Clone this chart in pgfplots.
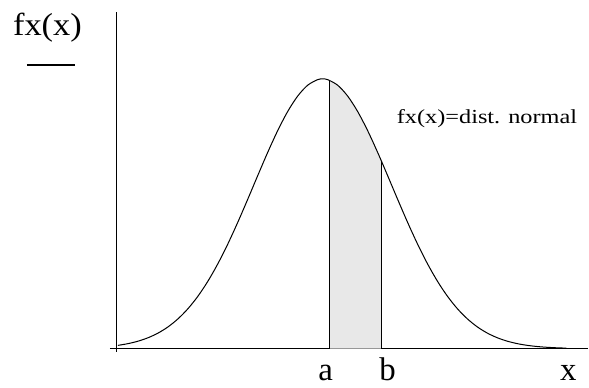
\documentclass[border=0pt]{standalone}
\usepackage{pgfplots}
\pgfplotsset{compat=1.18}
\usepackage{fontspec}
\setmainfont{Liberation Serif}
\definecolor{shade}{RGB}{232,232,232}
\begin{document}
\begin{tikzpicture}
\begin{axis}[
  scale only axis, width=479bp, height=340bp,
  xmin=-7, xmax=472, ymin=-3, ymax=337,
  axis lines=middle, axis line style={-, line width=1.2bp},
  xtick=\empty, ytick=\empty,
  clip=false,
]
\path (axis cs:-117,-39) rectangle (axis cs:472,349);
% shaded area between a and b
\addplot[fill=shade, draw=none] coordinates {
 (213,0) (213,268.61) (216,267.18) (221,263.70) (231,252.85) (241,237.42)
 (251,218.27) (261,196.52) (265,187.32) (265,0)} \closedcycle;
% normal curve
\addplot[black, line width=1bp, smooth] coordinates {
 (1,3.27) (11,4.98) (21,7.42) (31,10.83) (41,15.47) (51,21.65) (61,29.68)
 (71,39.82) (81,52.32) (91,67.32) (101,84.83) (111,104.65) (121,126.43)
 (131,149.56) (141,173.24) (151,196.52) (161,218.27) (171,237.42)
 (181,252.85) (191,263.70) (201,269.29) (206,270) (211,269.29)
 (221,263.70) (231,252.85) (241,237.42) (251,218.27) (261,196.52)
 (271,173.24) (281,149.56) (291,126.43) (301,104.65) (311,84.83)
 (321,67.32) (331,52.32) (341,39.82) (351,29.68) (361,21.65) (371,15.47)
 (381,10.83) (391,7.42) (401,4.98) (411,3.27) (421,2.10) (431,1.33)
 (441,0.82) (450,0.52)};
% vertical lines at a and b
\addplot[black, line width=1bp] coordinates {(213,0) (213,268.61)};
\addplot[black, line width=1bp] coordinates {(265,0) (265,187.32)};
% labels
\node[anchor=base, inner sep=0pt, font=\fontsize{32}{38}\selectfont, xscale=1.08] at (axis cs:-69.5,313) {fx(x)};
\draw[line width=1.2bp] (axis cs:-90,284) -- (axis cs:-42,284);
\node[anchor=base, inner sep=0pt, font=\fontsize{20}{24}\selectfont, xscale=1.22] at (axis cs:370.5,225.5) {fx(x)=dist. normal};
\node[anchor=base, inner sep=0pt, font=\fontsize{33}{40}\selectfont] at (axis cs:209,-32) {a};
\node[anchor=base, inner sep=0pt, font=\fontsize{33}{40}\selectfont] at (axis cs:271,-32) {b};
\node[anchor=base, inner sep=0pt, font=\fontsize{33}{40}\selectfont] at (axis cs:452,-32) {x};
\end{axis}
\end{tikzpicture}
\end{document}
